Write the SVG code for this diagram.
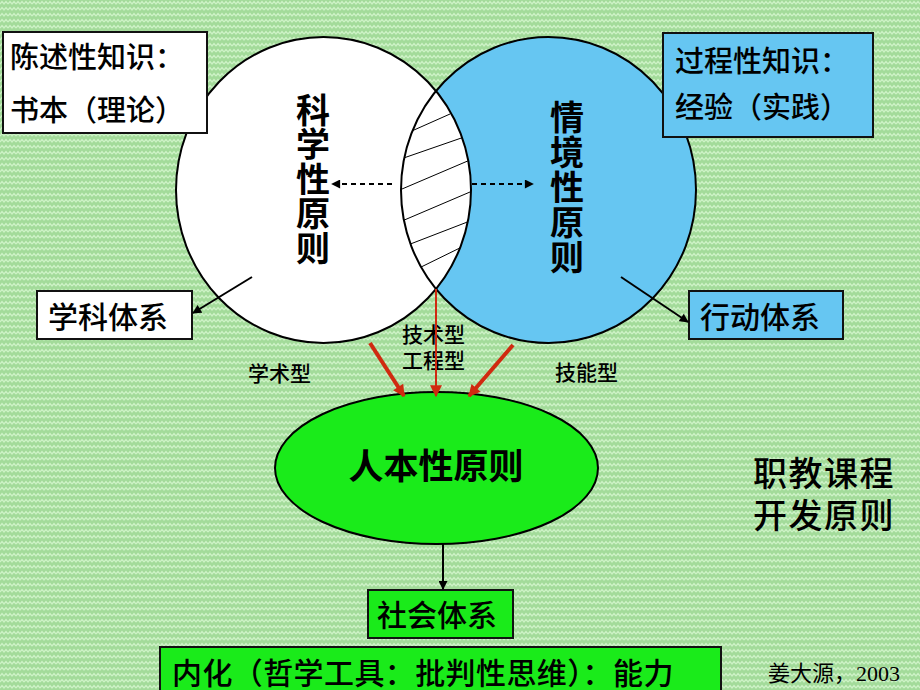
<svg xmlns="http://www.w3.org/2000/svg" width="920" height="690" viewBox="0 0 920 690">
<defs>
<pattern id="bg" width="8" height="6" patternUnits="userSpaceOnUse">
<rect width="8" height="6" fill="#a3db9a"/>
<polyline points="0,4 2,1.5 4,4 6,1.5 8,4" fill="none" stroke="#cdf2c6" stroke-width="1.3"/>
</pattern>
<clipPath id="lensClip"><path d="M436,91 A147.5,153 0 0,1 436,289 A147.5,153 0 0,1 436,91 Z"/></clipPath>
<marker id="ah" viewBox="0 0 10 10" refX="9" refY="5" markerWidth="10" markerHeight="9" markerUnits="userSpaceOnUse" orient="auto">
<path d="M0,0 L10,5 L0,10 Z" fill="#000"/>
</marker>
<marker id="ahr" viewBox="0 0 10 10" refX="9" refY="5" markerWidth="14" markerHeight="12" markerUnits="userSpaceOnUse" orient="auto">
<path d="M0,0 L10,5 L0,10 Z" fill="#d02a10"/>
</marker>
</defs>
<style>
.t{font-family:"Noto Sans CJK SC","Noto Sans",sans-serif;fill:#000;font-weight:500}
.b{font-weight:bold}
.v{writing-mode:vertical-rl;text-orientation:upright}
.box{stroke:#111;stroke-width:2}
.ol{fill:none;stroke:#000;stroke-width:2}
.con{fill:none;stroke:#000;stroke-width:2}
.red{fill:none;stroke:#d02a10}
.hatch{stroke:#000;stroke-width:1}
</style>
<rect width="920" height="690" fill="url(#bg)"/>

<g id="circle-science">
<ellipse cx="323.5" cy="190" rx="147.5" ry="153" fill="#fff"/>
</g>
<g id="circle-situation">
<ellipse cx="548.5" cy="190" rx="147.5" ry="153" fill="#66c6f2"/>
</g>
<g id="lens">
<path d="M436,91 A147.5,153 0 0,1 436,289 A147.5,153 0 0,1 436,91 Z" fill="#fff"/>
<g clip-path="url(#lensClip)" class="hatch">
<line x1="405" y1="134" x2="450" y2="114"/>
<line x1="395" y1="161" x2="470" y2="135"/>
<line x1="395" y1="192" x2="470" y2="160"/>
<line x1="395" y1="224" x2="470" y2="192"/>
<line x1="400" y1="248" x2="470" y2="221"/>
<line x1="415" y1="270" x2="470" y2="243"/>
</g>
</g>
<g id="outlines">
<ellipse class="ol" cx="323.5" cy="190" rx="147.5" ry="153"/>
<ellipse class="ol" cx="548.5" cy="190" rx="147.5" ry="153"/>
</g>
<g id="label-science">
<text class="t b v" font-size="34" x="313" y="93" letter-spacing="0.5">科学性原则</text>
</g>
<g id="label-situation">
<text class="t b v" font-size="34" x="567" y="100" letter-spacing="1">情境性原则</text>
</g>

<g id="box-declarative">
<rect class="box" x="3" y="32" width="204" height="101" fill="#fff"/>
<text class="t" font-size="29"><tspan x="10" y="68">陈述性知识：</tspan><tspan x="10" y="121">书本（理论）</tspan></text>
</g>
<g id="box-procedural">
<rect class="box" x="663" y="33" width="210" height="104" fill="#66c6f2"/>
<text class="t" font-size="29"><tspan x="675" y="72">过程性知识：</tspan><tspan x="675" y="118">经验（实践）</tspan></text>
</g>
<g id="box-subject">
<rect class="box" x="37" y="291" width="155" height="48" fill="#fff"/>
<text class="t" font-size="30" x="48" y="328">学科体系</text>
</g>
<g id="box-action">
<rect class="box" x="689" y="291" width="154" height="48" fill="#66c6f2"/>
<text class="t" font-size="30" x="700" y="328">行动体系</text>
</g>

<g id="labels">
<text class="t" font-size="21" x="248" y="381">学术型</text>
<text class="t" font-size="21"><tspan x="402" y="342">技术型</tspan><tspan x="402" y="368">工程型</tspan></text>
<text class="t" font-size="21" x="555" y="380">技能型</text>
</g>

<g id="ellipse-humanistic">
<ellipse cx="436.5" cy="468" rx="161.5" ry="76" fill="#1aeb1a" stroke="#000" stroke-width="2"/>
<text class="t b" font-size="35" x="436" y="479" text-anchor="middle">人本性原则</text>
</g>
<g id="box-society">
<rect class="box" x="368" y="590" width="145" height="48" fill="#1aeb1a"/>
<text class="t" font-size="30" x="377" y="626">社会体系</text>
</g>
<g id="box-internal">
<rect class="box" x="160" y="647" width="561" height="60" fill="#1aeb1a"/>
<text class="t" font-size="30" x="172" y="684" letter-spacing="0.4">内化（哲学工具：批判性思维）：能力</text>
</g>
<g id="title">
<text class="t" font-size="34" letter-spacing="1.5"><tspan x="753" y="486">职教课程</tspan><tspan x="753" y="528">开发原则</tspan></text>
</g>
<g id="credit">
<text font-family="'Liberation Serif','Noto Sans CJK SC',serif" font-size="22" x="768" y="681" fill="#000">姜大源，2003</text>
</g>

<g id="connectors">
<line class="con" x1="392" y1="184" x2="332" y2="184" stroke-dasharray="5,4" marker-end="url(#ah)"/>
<line class="con" x1="472" y1="184" x2="533" y2="184" stroke-dasharray="5,4" marker-end="url(#ah)"/>
<line class="con" x1="252" y1="277" x2="193" y2="313" marker-end="url(#ah)"/>
<line class="con" x1="621" y1="277" x2="688" y2="322" marker-end="url(#ah)"/>
<line class="con" x1="443" y1="544" x2="443" y2="589" marker-end="url(#ah)"/>
<line class="red" stroke-width="2" x1="436" y1="289" x2="436" y2="396" marker-end="url(#ahr)"/>
<line class="red" stroke-width="4" x1="370" y1="343" x2="404" y2="396" marker-end="url(#ahr)"/>
<line class="red" stroke-width="4" x1="513" y1="345" x2="469" y2="396" marker-end="url(#ahr)"/>
</g>
</svg>
